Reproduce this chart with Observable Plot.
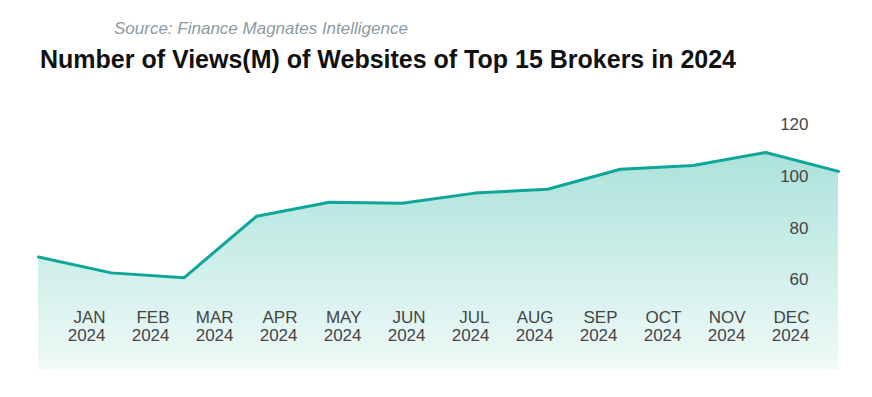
<!DOCTYPE html>
<html>
<head>
<meta charset="utf-8">
<script src="https://cdn.jsdelivr.net/npm/d3@7"></script>
<script src="https://cdn.jsdelivr.net/npm/@observablehq/plot@0.6"></script>
<style>
  html, body { margin: 0; padding: 0; background: #fff; }
  #wrap { position: relative; width: 872px; height: 397px; font-family: "Liberation Sans", Arial, sans-serif; }
  #header { position: relative; height: 100px; }
  #source { position: absolute; left: 114px; top: 19px; font-size: 17px; font-style: italic; color: #8c9aa1; white-space: nowrap; }
  #title { position: absolute; left: 40px; top: 45px; font-size: 25px; font-weight: bold; color: #111; white-space: nowrap; }
  #chart { position: relative; width: 872px; height: 297px; }
  #chart svg { position: absolute; left: 0; top: 0; }
</style>
</head>
<body>
<div id="wrap">
  <div id="header">
    <div id="source">Source: Finance Magnates Intelligence</div>
    <div id="title">Number of Views(M) of Websites of Top 15 Brokers in 2024</div>
  </div>
  <div id="chart"></div>
</div>
<script>
const months = ["JAN", "FEB", "MAR", "APR", "MAY", "JUN", "JUL", "AUG", "SEP", "OCT", "NOV", "DEC"];
const year = "2024";
const views = [68.8, 62.7, 60.8, 84.6, 90.0, 89.6, 93.5, 95.0, 102.7, 104.2, 109.2, 101.9];
const yTicks = [60, 80, 100, 120];
const yMin = 25;
const yMax = 120;

const data = months.map((m, i) => ({month: m, views: views[i]}));

const gradientDefs = () => {
  const ns = "http://www.w3.org/2000/svg";
  const defs = document.createElementNS(ns, "defs");
  const g = document.createElementNS(ns, "linearGradient");
  g.setAttribute("id", "areaGrad");
  g.setAttribute("x1", "0"); g.setAttribute("y1", "0");
  g.setAttribute("x2", "0"); g.setAttribute("y2", "1");
  [["0%", "#abe2da"], ["100%", "#f0faf8"]].forEach(([o, c]) => {
    const s = document.createElementNS(ns, "stop");
    s.setAttribute("offset", o);
    s.setAttribute("stop-color", c);
    g.appendChild(s);
  });
  defs.appendChild(g);
  return defs;
};

const main = Plot.plot({
  width: 872,
  height: 297,
  marginTop: 24,
  marginBottom: 27,
  marginLeft: 38,
  marginRight: 34,
  style: {fontFamily: "'Liberation Sans', Arial, sans-serif", background: "transparent"},
  x: {type: "point", domain: months, padding: 0, round: false, axis: null},
  y: {domain: [yMin, yMax], axis: null},
  marks: [
    gradientDefs,
    Plot.areaY(data, {x: "month", y1: yMin, y2: "views", fill: "url(#areaGrad)"}),
    Plot.lineY(data, {x: "month", y: "views", stroke: "#0ea698", strokeWidth: 3, strokeLinejoin: "miter"}),
    Plot.text(yTicks, {y: d => d, text: d => String(d), frameAnchor: "right", textAnchor: "end", dx: -30, fontSize: 17, fill: "#444"})
  ]
});

const axis = Plot.plot({
  width: 872,
  height: 297,
  marginTop: 209,
  marginBottom: 0,
  marginLeft: 105,
  marginRight: 63,
  style: {fontFamily: "'Liberation Sans', Arial, sans-serif", background: "transparent"},
  x: {type: "point", domain: months, padding: 0, round: false, axis: null},
  marks: [
    Plot.text(months, {x: d => d, text: d => d + "\n" + year, frameAnchor: "top", lineAnchor: "top", textAnchor: "end", lineHeight: 1.08, fontSize: 17, fill: "#444"})
  ]
});

const chart = document.getElementById("chart");
chart.appendChild(main);
chart.appendChild(axis);
</script>
</body>
</html>
